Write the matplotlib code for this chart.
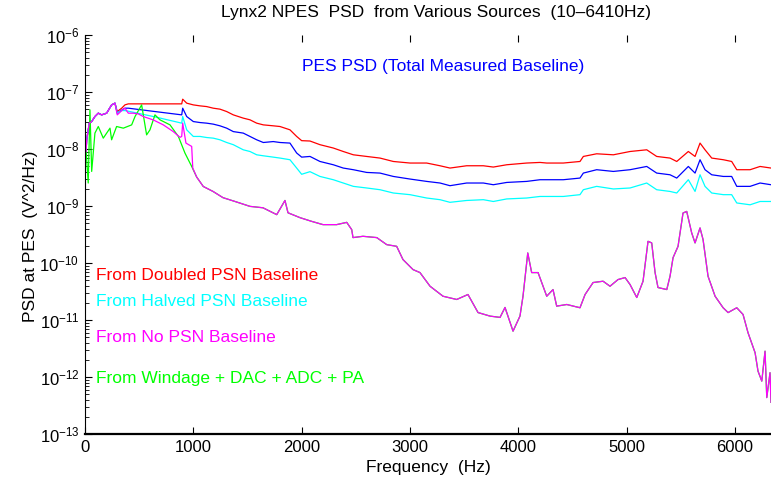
import numpy as np
import matplotlib
matplotlib.use("Agg")
import matplotlib.pyplot as plt
from matplotlib.ticker import FuncFormatter, NullFormatter, FixedLocator

plt.rcParams['font.family'] = ['Liberation Sans', 'DejaVu Sans']
plt.rcParams['mathtext.fontset'] = 'custom'
plt.rcParams['mathtext.rm'] = 'Liberation Sans'

# shared low-frequency part (all baselines lie on top of each other there)
low_f = [10, 16, 40, 62, 92, 123, 154, 200, 246, 277]
low_psd = [9.0e-9, 1.45e-8, 2.84e-8, 3.03e-8, 3.71e-8, 4.25e-8, 3.97e-8, 4.25e-8, 5.94e-8, 6.37e-8]

# from no PSN baseline (magenta)
nopsn_f = low_f + [298, 339, 369, 400, 446, 492, 538, 630, 723, 815, 877, 893, 902, 932, 985, 995,
                   1031, 1092, 1182, 1274, 1385, 1523, 1643, 1770, 1846, 1874, 1985, 2093, 2197, 2323,
                   2416, 2462, 2474, 2566, 2693, 2785, 2877, 2935, 3028, 3092, 3185, 3305, 3431, 3535,
                   3628, 3739, 3831, 3877, 3951, 4015, 4043, 4087, 4123, 4182, 4262, 4320, 4354, 4447,
                   4569, 4616, 4690, 4782, 4846, 4920, 4985, 5031, 5093, 5151, 5197, 5231, 5262, 5289,
                   5370, 5400, 5428, 5474, 5520, 5554, 5600, 5631, 5677, 5705, 5751, 5816, 5890, 5936,
                   6016, 6074, 6120, 6185, 6212, 6247, 6277, 6293, 6323, 6332]
nopsn_psd = low_psd + [3.97e-8, 4.72e-8, 5.2e-8, 4.25e-8, 4.25e-8, 4.13e-8, 3.71e-8, 3.24e-8, 2.65e-8,
                       2.02e-8, 1.6e-8, 1.66e-8, 2.84e-8, 1.27e-8, 1.11e-8, 4.63e-9,
                       3.22e-9, 2.2e-9, 1.8e-9, 1.4e-9, 1.2e-9, 9.85e-10, 9.3e-10, 7.05e-10, 1.25e-9,
                       7.6e-10, 6.24e-10, 5.37e-10, 4.71e-10, 4.71e-10,
                       5.16e-10, 3.85e-10, 2.79e-10, 2.94e-10, 2.79e-10, 2.1e-10, 1.96e-10, 1.15e-10,
                       7.66e-11, 6.79e-11, 3.91e-11, 2.61e-11, 2.29e-11, 2.8e-11,
                       1.35e-11, 1.17e-11, 1.11e-11, 1.66e-11, 6.37e-12, 1.17e-11, 2.61e-11, 1.5e-10,
                       6.79e-11, 6.79e-11, 2.61e-11, 3.42e-11, 1.75e-11, 1.87e-11,
                       1.64e-11, 2.8e-11, 4.54e-11, 4.79e-11, 3.91e-11, 5.12e-11, 5.55e-11, 4.19e-11,
                       2.48e-11, 4.79e-11, 2.4e-10, 2.25e-10, 6.79e-11, 3.71e-11,
                       3.42e-11, 5.85e-11, 1.24e-10, 1.96e-10, 7.53e-10, 8.03e-10, 3.37e-10, 2.25e-10,
                       4.12e-10, 2.57e-10, 5.85e-11, 2.61e-11, 1.64e-11, 1.35e-11,
                       1.64e-11, 1.25e-11, 5.97e-12, 2.67e-12, 1.27e-12, 8.47e-13, 2.84e-12, 4.35e-13,
                       1.19e-12, 3.59e-13]

# common frequency grid of the three baseline traces above 900 Hz
hi_f = [902, 939, 1000, 1062, 1123, 1184, 1246, 1308, 1369, 1461, 1523, 1585, 1646, 1738, 1800,
        1892, 1954, 2000, 2077, 2169, 2292, 2384, 2477, 2600, 2723, 2846, 3000, 3154, 3277, 3369,
        3523, 3677, 3769, 3893, 4077, 4200, 4262, 4415, 4569, 4600, 4723, 4877, 5031, 5185, 5277,
        5400, 5462, 5569, 5631, 5677, 5723, 5785, 5892, 5969, 6016, 6139, 6231, 6332]

# doubled PSN baseline (red)
doubled_f = low_f + [298, 339, 369, 400, 650, 893] + hi_f
doubled_psd = low_psd + [4.54e-8, 5.2e-8, 5.94e-8, 6.19e-8, 6.19e-8, 6.19e-8] + [
    7.48e-8, 6.37e-8, 5.94e-8, 5.71e-8, 5.55e-8, 5.2e-8, 5.0e-8, 4.54e-8, 3.97e-8, 3.48e-8,
    3.25e-8, 2.84e-8, 2.65e-8, 2.55e-8, 2.48e-8, 2.17e-8, 1.66e-8, 1.4e-8, 1.38e-8, 1.19e-8,
    1.04e-8, 9.04e-9, 7.91e-9, 7.4e-9, 6.93e-9, 6.04e-9, 5.67e-9, 5.67e-9, 5.08e-9, 4.63e-9,
    5.08e-9, 5.08e-9, 4.82e-9, 5.29e-9, 5.67e-9, 5.81e-9, 5.67e-9, 5.67e-9, 6.04e-9, 7.4e-9,
    8.24e-9, 7.91e-9, 9.04e-9, 9.68e-9, 7.4e-9, 6.93e-9, 6.04e-9, 9.04e-9, 7.4e-9, 1.27e-8,
    9.68e-9, 6.93e-9, 6.48e-9, 6.04e-9, 4.33e-9, 4.33e-9, 4.94e-9, 4.63e-9]

# total measured baseline (blue)
baseline_f = low_f + [298, 339, 369, 400, 646, 893] + hi_f
baseline_psd = low_psd + [4.25e-8, 4.8e-8, 5.2e-8, 5.2e-8, 4.54e-8, 3.97e-8] + [
    5.2e-8, 3.71e-8, 3.03e-8, 2.91e-8, 2.84e-8, 2.73e-8, 2.55e-8, 2.32e-8, 2.02e-8, 1.9e-8,
    1.66e-8, 1.45e-8, 1.3e-8, 1.35e-8, 1.3e-8, 1.27e-8, 8.5e-9, 7.2e-9, 7.4e-9, 6.04e-9,
    5.29e-9, 4.63e-9, 4.33e-9, 3.88e-9, 3.78e-9, 3.3e-9, 2.97e-9, 2.7e-9, 2.53e-9, 2.27e-9,
    2.53e-9, 2.53e-9, 2.36e-9, 2.59e-9, 2.7e-9, 2.89e-9, 2.89e-9, 2.89e-9, 3.09e-9, 3.78e-9,
    4.33e-9, 4.04e-9, 4.33e-9, 4.94e-9, 3.78e-9, 3.53e-9, 3.09e-9, 4.94e-9, 3.78e-9, 6.48e-9,
    4.33e-9, 3.53e-9, 3.3e-9, 3.3e-9, 2.21e-9, 2.21e-9, 2.53e-9, 2.36e-9]

# halved PSN baseline (cyan)
halved_f = low_f + [298, 339, 369, 400, 646, 893] + hi_f
halved_psd = low_psd + [4.25e-8, 4.72e-8, 4.72e-8, 4.6e-8, 3.66e-8, 2.84e-8] + [
    3.71e-8, 2.17e-8, 1.66e-8, 1.66e-8, 1.59e-8, 1.55e-8, 1.45e-8, 1.3e-8, 1.19e-8, 9.68e-9,
    9.04e-9, 7.91e-9, 7.6e-9, 7.2e-9, 6.93e-9, 6.48e-9, 4.63e-9, 3.6e-9, 4.0e-9, 3.3e-9,
    2.89e-9, 2.53e-9, 2.21e-9, 2.07e-9, 1.93e-9, 1.69e-9, 1.58e-9, 1.38e-9, 1.29e-9, 1.16e-9,
    1.25e-9, 1.29e-9, 1.2e-9, 1.33e-9, 1.38e-9, 1.47e-9, 1.47e-9, 1.47e-9, 1.58e-9, 1.93e-9,
    2.21e-9, 1.99e-9, 2.07e-9, 2.53e-9, 1.93e-9, 1.8e-9, 1.69e-9, 2.89e-9, 1.8e-9, 3.53e-9,
    2.21e-9, 1.69e-9, 1.58e-9, 1.58e-9, 1.13e-9, 1.05e-9, 1.2e-9, 1.2e-9]

# windage + DAC + ADC + PA (green), runs under the magenta trace above 1 kHz
k = nopsn_f.index(1031)
windage_f = [10, 30, 46, 62, 92, 123, 169, 231, 246, 292, 354, 431, 462, 523, 569, 600, 646, 692,
             785, 862, 923, 985] + nopsn_f[k:]
windage_psd = [9.68e-9, 2.53e-9, 4.86e-8, 4.04e-9, 1.9e-8, 2.48e-8, 1.55e-8, 2.32e-8, 1.45e-8,
               2.48e-8, 2.32e-8, 2.65e-8, 3.71e-8, 5.94e-8, 1.77e-8, 2.17e-8, 3.97e-8, 3.25e-8,
               2.65e-8, 1.66e-8, 8.48e-9, 4.94e-9] + nopsn_psd[k:]

xticks = [0, 1000, 2000, 3000, 4000, 5000, 6000]
yticks = [1e-13, 1e-12, 1e-11, 1e-10, 1e-9, 1e-8, 1e-7, 1e-6]
yminor = [m * t for t in yticks[:-1] for m in range(2, 10)]

fig = plt.figure(figsize=(7.71, 4.82), dpi=100)
ax = fig.add_axes([0.1102, 0.0996, 0.8898, 0.8278])

lw = 0.9
ax.plot(doubled_f, doubled_psd, color='#ff0000', lw=lw)
ax.plot(baseline_f, baseline_psd, color='#0000ff', lw=lw)
ax.plot(halved_f, halved_psd, color='#00ffff', lw=lw)
ax.plot(windage_f, windage_psd, color='#00ff00', lw=lw)
ax.plot(nopsn_f, nopsn_psd, color='#ff00ff', lw=lw)

ax.set_yscale('log')
ax.set_xlim(0, 6332)
ax.set_ylim(1e-13, 1e-6)
ax.xaxis.set_major_locator(FixedLocator(xticks))
ax.yaxis.set_major_locator(FixedLocator(yticks))
ax.yaxis.set_minor_locator(FixedLocator(yminor))
ax.yaxis.set_minor_formatter(NullFormatter())
ax.yaxis.set_major_formatter(FuncFormatter(lambda v, p: r'$\mathregular{10^{%d}}$' % round(np.log10(v))))

ax.tick_params(axis='both', which='both', direction='in', top=True, right=False, labelsize=12)
ax.tick_params(axis='x', which='major', length=5, pad=4)
ax.tick_params(axis='y', which='major', length=5, pad=4)
ax.tick_params(axis='y', which='minor', length=3)
ax.spines['right'].set_visible(False)
ax.spines['top'].set_visible(False)
ax.spines['bottom'].set_linewidth(1.6)
ax.spines['left'].set_linewidth(0.8)

fig.text(0.566, 0.975, 'Lynx2 NPES  PSD  from Various Sources  (10\u20136410Hz)', ha='center', va='center', fontsize=12.5)
fig.text(0.555, 0.031, 'Frequency  (Hz)', ha='center', va='center', fontsize=12.5)
fig.text(0.039, 0.51, 'PSD at PES  (V^2/Hz)', ha='center', va='center', rotation=90, fontsize=12.5)

txt = 12.5
ax.text(0.316, 0.92, 'PES PSD (Total Measured Baseline)', transform=ax.transAxes, color='#0000ff', fontsize=txt, va='center')
ax.text(0.016, 0.396, 'From Doubled PSN Baseline', transform=ax.transAxes, color='#ff0000', fontsize=txt, va='center')
ax.text(0.016, 0.331, 'From Halved PSN Baseline', transform=ax.transAxes, color='#00ffff', fontsize=txt, va='center')
ax.text(0.016, 0.241, 'From No PSN Baseline', transform=ax.transAxes, color='#ff00ff', fontsize=txt, va='center')
ax.text(0.016, 0.140, 'From Windage + DAC + ADC + PA', transform=ax.transAxes, color='#00ff00', fontsize=txt, va='center')

fig.savefig('out.png', dpi=100)
